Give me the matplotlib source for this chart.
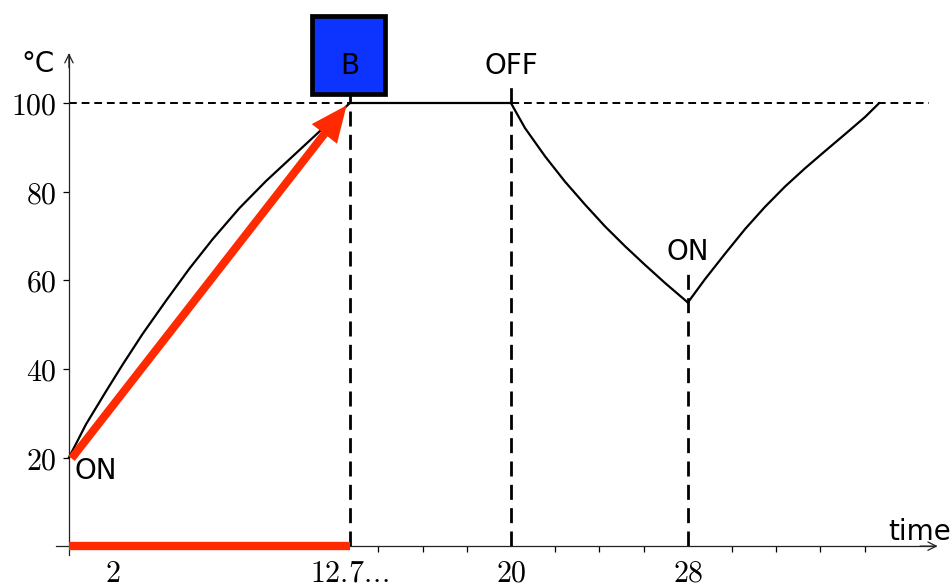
import numpy as np
import matplotlib.pyplot as plt
from matplotlib.patches import Rectangle

plt.rcParams['mathtext.fontset'] = 'cm'

# heating from 20 to 100 (ON)
heat_t = [0, 0.77, 1.67, 2.43, 3.33, 4.39, 5.44, 6.50, 7.71, 8.91, 10.12, 11.33, 12.7]
heat_T = [20, 27.5, 34.9, 41.0, 47.9, 55.4, 62.6, 69.3, 76.3, 82.4, 88.0, 93.6, 100]
# boiling plateau
hold_t = [12.7, 20]
hold_T = [100, 100]
# cooling after OFF
cool_t = [20, 20.63, 21.54, 22.44, 23.35, 24.25, 25.16, 26.06, 26.97, 28]
cool_T = [100, 94.4, 88.0, 82.3, 77.1, 72.2, 67.7, 63.5, 59.4, 55]
# heating again after ON
reheat_t = [28, 28.78, 29.68, 30.59, 31.49, 32.40, 33.30, 34.21, 35.11, 36.02, 36.65]
reheat_T = [55, 60.3, 66.0, 71.6, 76.6, 81.2, 85.3, 89.2, 93.0, 96.9, 100]

t_boil = 12.7
t_off = 20
t_on = 28
T_top = 100

ytick_vals = [20, 40, 60, 80, 100]
xtick_vals = [2, 12.7, 20, 28]
xtick_labels = ['$2$', r'$12.7.\!.\!.$', '$20$', '$28$']
minor_ticks = np.arange(14, 37, 2)

red = '#ff2a00'

fig = plt.figure(figsize=(9.52, 5.86), dpi=100)
ax = fig.add_axes([0, 0, 1, 1])
ax.set_xlim(-3.12, 39.95)
ax.set_ylim(-9.0, 123.3)

ax.spines['top'].set_visible(False)
ax.spines['right'].set_visible(False)
ax.spines['left'].set_position(('data', 0))
ax.spines['bottom'].set_position(('data', 0))
ax.spines['left'].set_bounds(-2, 111)
ax.spines['bottom'].set_bounds(-0.6, 39.2)
for s in ['left', 'bottom']:
    ax.spines[s].set_linewidth(0.9)
    ax.spines[s].set_color('#222222')

# arrow heads of the axes
ax.annotate('', xy=(0, 111.3), xytext=(0, 108),
            arrowprops=dict(arrowstyle='->,head_length=0.6,head_width=0.3', lw=0.9,
                            color='#222222', shrinkA=0, shrinkB=0))
ax.annotate('', xy=(39.3, 0), xytext=(38.5, 0),
            arrowprops=dict(arrowstyle='->,head_length=0.6,head_width=0.3', lw=0.9,
                            color='#222222', shrinkA=0, shrinkB=0))

ax.set_yticks(ytick_vals)
ax.set_yticklabels(['$%d$' % v for v in ytick_vals])
ax.tick_params(axis='y', direction='out', length=4, width=0.9, labelsize=21.5, pad=5)
ax.set_xticks(xtick_vals)
ax.set_xticklabels(xtick_labels)
ax.set_xticks(minor_ticks, minor=True)
ax.tick_params(axis='x', which='major', length=0, pad=9, labelsize=21.5)
ax.tick_params(axis='x', which='minor', direction='out', length=4.5, width=0.9)

# dashed guides
ax.plot([0, 38.9], [T_top, T_top], color='black', lw=1.4, dashes=(4, 2.5), zorder=2)
ax.plot([t_boil, t_boil], [0, 104], color='black', lw=2, dashes=(5.4, 3), zorder=2)
ax.plot([t_off, t_off], [0, 104], color='black', lw=2, dashes=(5.4, 3), zorder=2)
ax.plot([t_on, t_on], [0, 62.8], color='black', lw=2, dashes=(5.4, 3), zorder=2)

# temperature curve
for tt, TT in [(heat_t, heat_T), (hold_t, hold_T), (cool_t, cool_T), (reheat_t, reheat_T)]:
    ax.plot(tt, TT, color='black', lw=1.6, zorder=3, solid_joinstyle='round')

# red bar and arrow
ax.plot([0, t_boil], [0, 0], color=red, lw=6, solid_capstyle='butt', zorder=4)
ax.annotate('', xy=(12.56, 99.5), xytext=(0.12, 19.8),
            arrowprops=dict(arrowstyle='simple,head_length=1.3,head_width=1.15,tail_width=0.29',
                            mutation_scale=20, color=red, lw=0, shrinkA=0, shrinkB=0),
            zorder=5)

# blue box
ax.add_patch(Rectangle((11.01, 102.1), 3.27, 17.7, facecolor='#0d33ff',
                       edgecolor='black', lw=3.4, zorder=4, clip_on=False))

ax.text(12.7, 106.6, 'B', ha='center', va='baseline', fontsize=20, zorder=6)
ax.text(t_off, 106.6, 'OFF', ha='center', va='baseline', fontsize=20)
ax.text(t_on, 64.6, 'ON', ha='center', va='baseline', fontsize=20)
ax.text(0.25, 15.1, 'ON', ha='left', va='baseline', fontsize=20)
ax.text(-1.4, 107.0, '°C', ha='center', va='baseline', fontsize=20)
ax.text(38.5, 1.4, 'time', ha='center', va='baseline', fontsize=20)

fig.savefig('out.png', dpi=100)
